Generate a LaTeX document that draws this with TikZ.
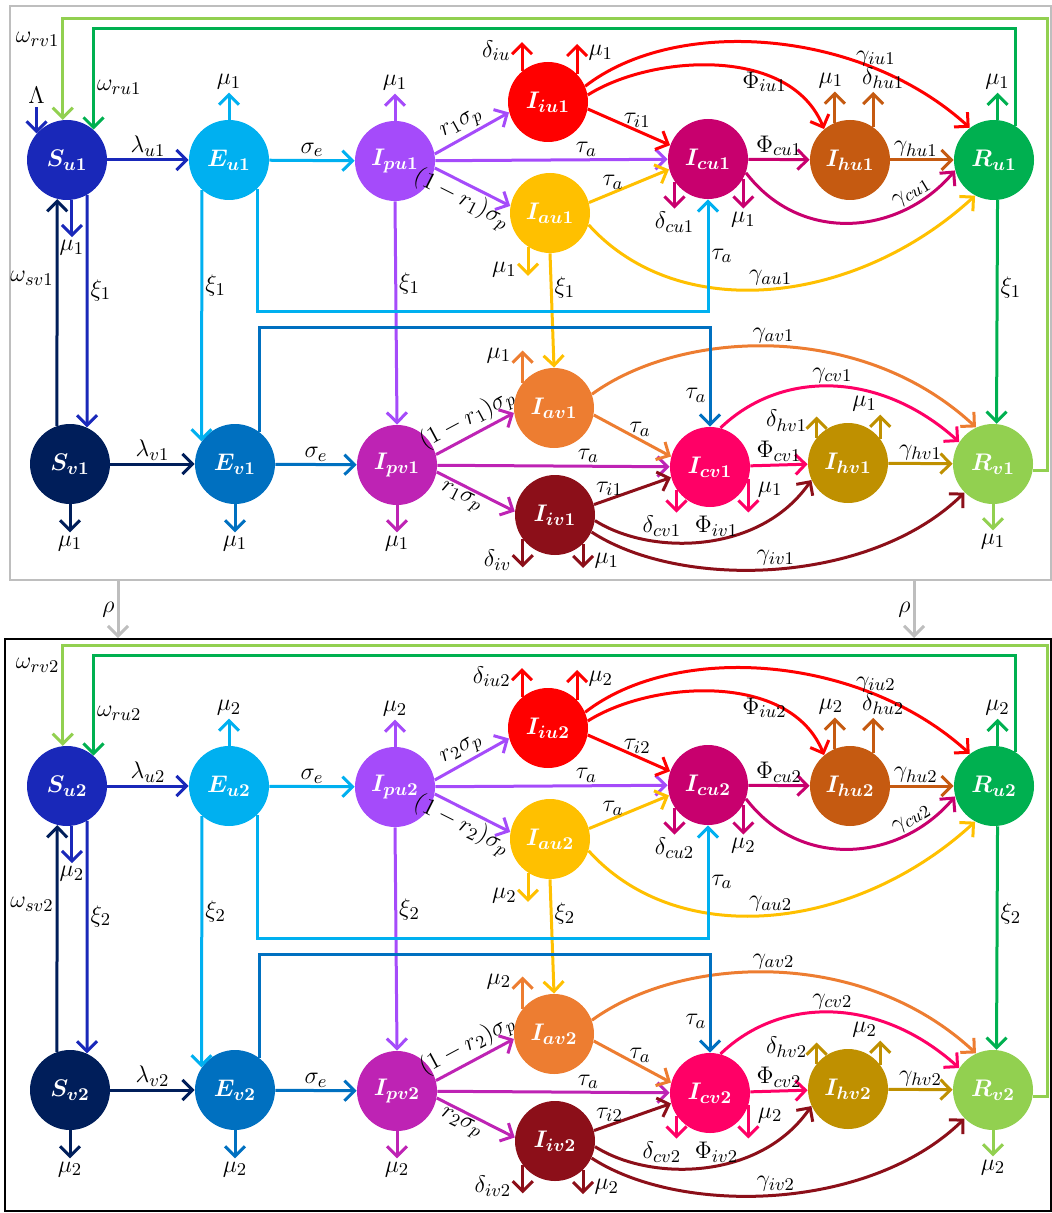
\documentclass[tikz,border=0pt]{standalone}
\usepackage{amsmath,bm}
\usetikzlibrary{arrows.meta}

\definecolor{cSU}{RGB}{25,40,185}
\definecolor{cSV}{RGB}{0,30,90}
\definecolor{cEU}{RGB}{0,176,240}
\definecolor{cEV}{RGB}{0,112,192}
\definecolor{cIPU}{RGB}{165,75,250}
\definecolor{cIPV}{RGB}{190,35,180}
\definecolor{cIIU}{RGB}{255,0,0}
\definecolor{cIIV}{RGB}{140,15,25}
\definecolor{cIAU}{RGB}{255,192,0}
\definecolor{cIAV}{RGB}{237,125,49}
\definecolor{cICU}{RGB}{200,0,110}
\definecolor{cICV}{RGB}{255,0,102}
\definecolor{cIHU}{RGB}{197,90,17}
\definecolor{cIHV}{RGB}{191,144,0}
\definecolor{cRU}{RGB}{0,176,80}
\definecolor{cRV}{RGB}{146,208,80}
\definecolor{cFrame}{RGB}{190,190,190}

\tikzset{
  comp/.style = {circle, minimum size=40pt, inner sep=0pt, text=white,
                 font=\fontsize{13}{15}\selectfont},
  flow/.style = {line width=1.5pt, -{Straight Barb[length=5pt,width=10pt]}},
  lbl/.style  = {text=black, inner sep=1pt, font=\fontsize{13}{15}\selectfont},
}

% one age group: #1 index, #2 vertical offset, #3 suffix of delta_iu / delta_iv
\newcommand{\modelpanel}[3]{%
  \begin{scope}[shift={(0,#2)}]
    % ----------------------------------------------------------------------
    % Unvaccinated row
    \node[comp, fill=cSU]  (su#1)  at (67,160)  {$\bm{S_{u#1}}$};
    \node[comp, fill=cEU]  (eu#1)  at (229,160) {$\bm{E_{u#1}}$};
    \node[comp, fill=cIPU] (ipu#1) at (395,161) {$\bm{I_{pu#1}}$};
    \node[comp, fill=cIIU] (iiu#1) at (548,102) {$\bm{I_{iu#1}}$};
    \node[comp, fill=cIAU] (iau#1) at (550,213) {$\bm{I_{au#1}}$};
    \node[comp, fill=cICU] (icu#1) at (708,159) {$\bm{I_{cu#1}}$};
    \node[comp, fill=cIHU] (ihu#1) at (850,160) {$\bm{I_{hu#1}}$};
    \node[comp, fill=cRU]  (ru#1)  at (994,160) {$\bm{R_{u#1}}$};

    % ----------------------------------------------------------------------
    % Vaccinated row
    \node[comp, fill=cSV]  (sv#1)  at (70,464)  {$\bm{S_{v#1}}$};
    \node[comp, fill=cEV]  (ev#1)  at (235,464) {$\bm{E_{v#1}}$};
    \node[comp, fill=cIPV] (ipv#1) at (397,465) {$\bm{I_{pv#1}}$};
    \node[comp, fill=cIAV] (iav#1) at (554,408) {$\bm{I_{av#1}}$};
    \node[comp, fill=cIIV] (iiv#1) at (555,515) {$\bm{I_{iv#1}}$};
    \node[comp, fill=cICV] (icv#1) at (710,467) {$\bm{I_{cv#1}}$};
    \node[comp, fill=cIHV] (ihv#1) at (848,463) {$\bm{I_{hv#1}}$};
    \node[comp, fill=cRV]  (rv#1)  at (993,464) {$\bm{R_{v#1}}$};

    \coordinate (lowA#1) at (0,312);
    \coordinate (lowB#1) at (0,328);
    \coordinate (cL#1) at (1047,19);
    \coordinate (cR#1) at (1015,29);

    % ----------------------------------------------------------------------
    % Susceptible
    \draw[flow, cSU] (su#1) -- node[lbl, above] {$\lambda_{u#1}$} (eu#1);
    \draw[flow, cSU] (su#1.-83) -- ++(0,37) node[lbl, below] {$\mu_#1$};
    \draw[flow, cSU] (su#1.-60) -- node[lbl, right, pos=0.41] {$\xi_#1$} (sv#1.65);
    \draw[flow, cSV] (sv#1.109) -- node[lbl, left, pos=0.65] {$\omega_{sv#1}$} (su#1.-104);
    \draw[flow, cSV] (sv#1) -- node[lbl, above] {$\lambda_{v#1}$} (ev#1);
    \draw[flow, cSV] (sv#1.south) -- ++(0,28) node[lbl, below] {$\mu_#1$};

    % Pre-symptomatic
    \draw[flow, cIPU] (ipu#1.north) -- ++(0,-27) node[lbl, above] {$\mu_#1$};
    \draw[flow, cIPU] (ipu#1.10) -- node[lbl, sloped, above, pos=0.45] {$r_#1\sigma_p$} (iiu#1.195);
    \draw[flow, cIPU] (ipu#1) -- node[lbl, above, pos=0.65] {$\tau_a$} (icu#1);
    \draw[flow, cIPU] (ipu#1.-10) -- node[lbl, sloped, below, pos=0.45] {$(1-r_#1)\sigma_p$} (iau#1.170);
    \draw[flow, cIPU] (ipu#1.south) -- node[lbl, right, pos=0.37] {$\xi_#1$} (ipv#1.north);
    \draw[flow, cIPV] (ipv#1.south) -- ++(0,27) node[lbl, below] {$\mu_#1$};
    \draw[flow, cIPV] (ipv#1.15) -- node[lbl, sloped, above, pos=0.5] {$(1-r_#1)\sigma_p$} (iav#1.187);
    \draw[flow, cIPV] (ipv#1) -- node[lbl, above, pos=0.65] {$\tau_a$} (icv#1);
    \draw[flow, cIPV] (ipv#1.-10) -- node[lbl, sloped, below, pos=0.38] {$r_#1\sigma_p$} (iiv#1.175);

    % Asymptomatic
    \draw[flow, cIAU] (iau#1.-123) -- ++(0,29) node[lbl, left, pos=0.8, xshift=-4pt] {$\mu_#1$};
    \draw[flow, cIAU] (iau#1.15) -- node[lbl, above, pos=0.3] {$\tau_a$} (icu#1.195);
    \draw[flow, cIAU] (iau#1.south) -- node[lbl, right, pos=0.3] {$\xi_#1$} (iav#1.north);
    \draw[flow, cIAU] (iau#1.-17) .. controls +(90,100) and +(-120,110) .. (ru#1.-118)
      node[lbl, above, pos=0.5] {$\gamma_{au#1}$};
    \draw[flow, cIAV] (iav#1.141) -- ++(0,-32) node[lbl, left, pos=0.85, xshift=-4pt] {$\mu_#1$};
    \draw[flow, cIAV] (iav#1.-10) -- node[lbl, above, pos=0.6] {$\tau_a$} (icv#1.165);
    \draw[flow, cIAV] (iav#1.20) .. controls +(88,-64) and +(-116,-108) .. (rv#1.115)
      node[lbl, above, pos=0.5] {$\gamma_{av#1}$};

    % Isolated
    \draw[flow, cIIU] (iiu#1.130) -- ++(0,-29) node[lbl, left, pos=0.7, xshift=-4pt] {$\delta_{iu#3}$};
    \draw[flow, cIIU] (iiu#1.44) -- ++(0,-30) node[lbl, right, pos=0.7, xshift=4pt] {$\mu_#1$};
    \draw[flow, cIIU] (iiu#1.-10) -- node[lbl, above, pos=0.6] {$\tau_{i#1}$} (icu#1.160);
    \draw[flow, cIIU] (iiu#1.10) .. controls +(63,-40) and +(-34,-84) .. (ihu#1.130)
      node[lbl, anchor=north west, pos=0.58] {$\Phi_{iu#1}$};
    \draw[flow, cIIU] (iiu#1.23) .. controls +(90,-70) and +(-110,-100) .. (ru#1.127)
      node[lbl, above, pos=0.75] {$\gamma_{iu#1}$};
    \draw[flow, cIIV] (iiv#1.-143) -- ++(0,28) node[lbl, left, pos=0.75, xshift=-4pt] {$\delta_{iv#3}$};
    \draw[flow, cIIV] (iiv#1.-46) -- ++(0,24) node[lbl, right, pos=0.7, xshift=4pt] {$\mu_#1$};
    \draw[flow, cIIV] (iiv#1.15) -- node[lbl, above, pos=0.2] {$\tau_{i#1}$} (icv#1.195);
    \draw[flow, cIIV] (iiv#1.-8) .. controls +(55,35) and +(-52,75) .. (ihv#1.-155)
      node[lbl, above, pos=0.55] {$\Phi_{iv#1}$};
    \draw[flow, cIIV] (iiv#1.-25) .. controls +(89,58) and +(-95,93) .. (rv#1.-135)
      node[lbl, above, pos=0.5] {$\gamma_{iv#1}$};

    % Critical
    \draw[flow, cICU] (icu#1.-146) -- ++(0,27) node[lbl, below] {$\delta_{cu#1}$};
    \draw[flow, cICU] (icu#1.-29) -- ++(0,30) node[lbl, below] {$\mu_#1$};
    \draw[flow, cICU] (icu#1) -- node[lbl, above] {$\Phi_{cu#1}$} (ihu#1);
    \draw[flow, cICU] (icu#1.-20) .. controls +(55,72) and +(-55,65) .. (ru#1.-165)
      node[lbl, sloped, above, pos=0.8] {$\gamma_{cu#1}$};
    \draw[flow, cICV] (icv#1.-146) -- ++(0,23) node[lbl, below left, xshift=4pt] {$\delta_{cv#1}$};
    \draw[flow, cICV] (icv#1.-18) -- ++(0,33) node[lbl, right, pos=0.3, xshift=3pt] {$\mu_#1$};
    \draw[flow, cICV] (icv#1) -- node[lbl, above] {$\Phi_{cv#1}$} (ihv#1);
    \draw[flow, cICV] (icv#1.75) .. controls +(60,-58) and +(-80,-72) .. (rv#1.147)
      node[lbl, above, pos=0.5] {$\gamma_{cv#1}$};

    % Exposed (drawn over the xi lines)
    \draw[flow, cEU] (eu#1.north) -- ++(0,-27) node[lbl, above] {$\mu_#1$};
    \draw[flow, cEU] (eu#1) -- node[lbl, above] {$\sigma_e$} (ipu#1);
    \draw[flow, cEU] (eu#1.-132) -- node[lbl, right, pos=0.38] {$\xi_#1$} (ev#1.146);
    \draw[flow, cEU] (eu#1.-46) |- (icu#1.south |- lowA#1) -- (icu#1.south)
      node[lbl, right, pos=0.5] {$\tau_a$};
    \draw[flow, cEV] (ev#1.south) -- ++(0,28) node[lbl, below] {$\mu_#1$};
    \draw[flow, cEV] (ev#1) -- node[lbl, above] {$\sigma_e$} (ipv#1);
    \draw[flow, cEV] (ev#1.53) |- (icv#1.north |- lowB#1) -- (icv#1.north)
      node[lbl, left, pos=0.68] {$\tau_a$};

    % Hospitalised
    \draw[flow, cIHU] (ihu#1.112) -- ++(0,-31) node[lbl, above, xshift=-2pt] {$\mu_#1$};
    \draw[flow, cIHU] (ihu#1.55) -- ++(0,-35) node[lbl, above, xshift=5pt] {$\delta_{hu#1}$};
    \draw[flow, cIHU] (ihu#1) -- node[lbl, above, pos=0.4] {$\gamma_{hu#1}$} (ru#1);
    \draw[flow, cIHV] (ihv#1.141) -- ++(0,-21) node[lbl, left, pos=0.8, xshift=-3pt] {$\delta_{hv#1}$};
    \draw[flow, cIHV] (ihv#1.37) -- ++(0,-24) node[lbl, above left] {$\mu_#1$};
    \draw[flow, cIHV] (ihv#1) -- node[lbl, above] {$\gamma_{hv#1}$} (rv#1);

    % Recovered
    \draw[flow, cRU] (ru#1.85) -- ++(0,-27) node[lbl, above] {$\mu_#1$};
    \draw[flow, cRU] (ru#1.-85) -- node[lbl, right, pos=0.39] {$\xi_#1$} (rv#1.85);
    \draw[flow, cRV] (rv#1.south) -- ++(0,26) node[lbl, below] {$\mu_#1$};
    \draw[flow, cRU] (ru#1.58) |- (cR#1) -| (su#1.49)
      node[lbl, right, pos=0.79] {$\omega_{ru#1}$};
    \draw[flow, cRV] (rv#1.-9) -| (cL#1) -| (su#1.96)
      node[lbl, left, pos=0.6] {$\omega_{rv#1}$};
  \end{scope}%
}

\begin{document}
\begin{tikzpicture}[x=0.5pt, y=-0.5pt]
  \useasboundingbox (0,0) rectangle (1052,1213);

  % ------------------------------------------------------------------------
  % Frames of the two groups
  \node[draw=cFrame, line width=1pt, minimum width=520.5pt, minimum height=287pt,
        inner sep=0pt] (frame1) at (530.5,293) {};
  \node[draw=black, line width=1pt, minimum width=523pt, minimum height=286pt,
        inner sep=0pt] (frame2) at (528,925) {};

  \modelpanel{1}{0}{}
  \modelpanel{2}{626}{2}

  % recruitment
  \coordinate (lamin) at ([yshift=13pt]su1.139);
  \draw[flow, cSU] (lamin) node[lbl, above] {$\Lambda$} -- (su1.139);

  % ------------------------------------------------------------------------
  % Ageing between the groups
  \coordinate (rhoL) at (118,0);
  \coordinate (rhoR) at (914,0);
  \draw[flow, cFrame] (frame1.south -| rhoL) -- node[lbl, left] {$\rho$} (frame2.north -| rhoL);
  \draw[flow, cFrame] (frame1.south -| rhoR) -- node[lbl, left] {$\rho$} (frame2.north -| rhoR);
\end{tikzpicture}
\end{document}
